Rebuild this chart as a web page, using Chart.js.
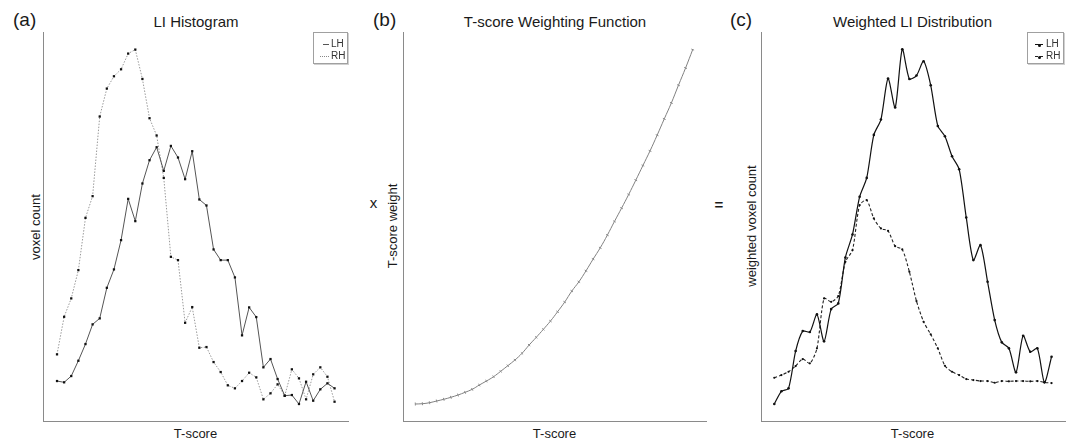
<!DOCTYPE html>
<html><head><meta charset="utf-8">
<script src="https://cdn.jsdelivr.net/npm/chart.js@4/dist/chart.umd.min.js"></script>
<style>
html,body{margin:0;padding:0;background:#fff;}
body{width:1077px;height:440px;position:relative;overflow:hidden;font-family:"Liberation Sans",Arial,sans-serif;color:#1a1a1a;}
.t{position:absolute;white-space:nowrap;line-height:1;}
.c{transform:translateX(-50%);}
.m{transform:translate(-50%,-50%);}
.r{transform:translate(-50%,-50%) rotate(-90deg);}
canvas{position:absolute;}
.lg{position:absolute;border:1px solid #a0a0a0;box-shadow:1px 1px 0 #d0d0d0;background:#fff;font-size:10px;color:#333;}
.row{position:absolute;height:10px;line-height:10px;}
.smp{position:absolute;top:5px;height:0;}
.dot{position:absolute;top:-1.5px;left:2.5px;width:3px;height:3px;border-radius:50%;background:#111;}
</style>
</head><body>
<div class="t" style="left:13px;top:10px;font-size:19px;">(a)</div>
<div class="t c" style="left:196px;top:14px;font-size:15px;">LI Histogram</div>
<div class="t r" style="left:34.5px;top:226.7px;font-size:13px;">voxel count</div>
<div class="t c" style="left:195.5px;top:427px;font-size:13px;">T-score</div>

<div class="t" style="left:373px;top:10px;font-size:19px;">(b)</div>
<div class="t c" style="left:555px;top:14px;font-size:15px;">T-score Weighting Function</div>
<div class="t m" style="left:373.5px;top:202px;font-size:15px;">x</div>
<div class="t r" style="left:391.5px;top:226px;font-size:13px;">T-score weight</div>
<div class="t c" style="left:554.5px;top:427px;font-size:13px;">T-score</div>
<div class="t m" style="left:719px;top:204px;font-size:15px;font-weight:bold;">=</div>

<div class="t" style="left:730px;top:10px;font-size:19px;">(c)</div>
<div class="t c" style="left:912.5px;top:14px;font-size:15px;">Weighted LI Distribution</div>
<div class="t r" style="left:750.5px;top:226px;font-size:13px;">weighted voxel count</div>
<div class="t c" style="left:912.5px;top:427px;font-size:13px;">T-score</div>

<canvas id="ca" width="325" height="409" style="left:33px;top:22px;"></canvas>
<canvas id="cb" width="323" height="409" style="left:393px;top:22px;"></canvas>
<canvas id="cc" width="324" height="409" style="left:751px;top:22px;"></canvas>

<div class="lg" style="left:313px;top:32px;width:33px;height:30px;">
  <div class="row" style="left:0;top:6px;width:33px;"><span class="smp" style="left:9px;width:6px;border-top:1px solid #555;"></span><span style="position:absolute;left:17px;">LH</span></div>
  <div class="row" style="left:0;top:18px;width:33px;"><span class="smp" style="left:6px;width:9px;border-top:1px dotted #888;"></span><span style="position:absolute;left:17px;">RH</span></div>
</div>
<div class="lg" style="left:1027px;top:32px;width:35px;height:30px;">
  <div class="row" style="left:0;top:6px;width:35px;"><span class="smp" style="left:7px;width:8px;border-top:1px solid #111;"><span class="dot"></span></span><span style="position:absolute;left:18px;">LH</span></div>
  <div class="row" style="left:0;top:18px;width:35px;"><span class="smp" style="left:7px;width:8px;border-top:1px dashed #222;"><span class="dot"></span></span><span style="position:absolute;left:18px;">RH</span></div>
</div>

<script>
const tScoreBins = [1,2,3,4,5,6,7,8,9,10,11,12,13,14,15,16,17,18,19,20,21,22,23,24,25,26,27,28,29,30,31,32,33,34,35,36,37,38,39,40];

const histLH = [40,38.7,45,60.3,77,96.7,102.7,133.3,151.7,181,222.3,200,237.7,261,274,250.3,275.3,263.7,242,270,221.7,215.7,171.7,161,161,143.7,85.7,113.7,104,53.7,62,42,25.3,26,17,39.3,20.3,31.7,37.7,32.7];
const histRH = [66.7,104.3,122.7,151,203.3,225,304.7,332.7,345,352,367.7,371.7,342.3,303,285.7,243.3,164.3,161,98.3,114,73.3,74,59,49,35.7,32.7,40,48.3,43.7,21.7,27.7,36.7,25.3,51.7,42.7,21.7,46.7,53.7,44.3,19.3];

const tScoreWeight = [17,17.3,18.3,20,21.7,23.7,26,28.7,31.7,36,40,44.3,49.7,55.3,61,67.7,76,83.7,91.7,100,109.3,119,130,139.3,150.3,162,173.3,186,199.7,213,226.7,241,255.7,270.3,286,302.3,318.3,336,353.3,371.7];

const weightedLH = [17,29.7,32.7,70,90,89,106.7,79.7,112,117.7,163.7,186.7,224.3,243.3,286.3,301.7,342.7,313.7,372,342.3,345.7,360,336,295.3,285,265,252,203.7,161,176,139.3,101,78.7,72.7,48.7,85.3,69.3,72.7,38.7,64.3];
const weightedRH = [43.3,46,49.3,55,62,57.7,72.7,122.7,119.3,125,159.3,171,216,221,202.7,192.7,190.3,175,171.7,149.3,120,99.3,86.7,72.7,55.3,49.3,46,42,41,40,40,38.3,40,39.7,40,40,39.7,40,38.7,38];

function pts(vals){ return vals.map((v,i)=>({x:tScoreBins[i], y:v})); }

function opts(xmin, xmax){
  const ax = (min,max)=>({type:'linear',min:min,max:max,
    ticks:{display:false},grid:{display:false,drawTicks:false},
    border:{display:true,color:'#8a8a8a',width:1}});
  return {
    responsive:false, animation:false, devicePixelRatio:1,
    layout:{padding:10},
    plugins:{legend:{display:false},tooltip:{enabled:false},title:{display:false}},
    scales:{x:ax(xmin,xmax), y:ax(0,389.3)}
  };
}

new Chart(document.getElementById('ca'),{
  type:'line',
  data:{datasets:[
    {label:'LH',data:pts(histLH),borderColor:'#555',borderWidth:1,tension:0,
     pointStyle:'rect',pointRadius:1.6,pointBackgroundColor:'#111',pointBorderWidth:0},
    {label:'RH',data:pts(histRH),borderColor:'#9a9a9a',borderWidth:1,borderDash:[1.5,1.5],tension:0,
     pointStyle:'rect',pointRadius:1.6,pointBackgroundColor:'#111',pointBorderWidth:0}
  ]},
  options:opts(-0.97,41.89)
});

new Chart(document.getElementById('cb'),{
  type:'line',
  data:{datasets:[
    {label:'weight',data:pts(tScoreWeight),borderColor:'#808080',borderWidth:1,tension:0.4,
     pointStyle:'line',pointRadius:1.5,pointBorderColor:'#8a8a8a',pointBorderWidth:1,
     rotation:(ctx)=>{
       const i=ctx.dataIndex, d=tScoreWeight, ch=ctx.chart;
       if(!ch.scales||!ch.scales.x) return 90;
       const a=Math.max(0,i-1), b=Math.min(d.length-1,i+1);
       const dx=ch.scales.x.getPixelForValue(tScoreBins[b])-ch.scales.x.getPixelForValue(tScoreBins[a]);
       const dy=ch.scales.y.getPixelForValue(d[b])-ch.scales.y.getPixelForValue(d[a]);
       return Math.atan2(dy,dx)*180/Math.PI+90;
     }}
  ]},
  options:opts(-0.73,41.87)
});

new Chart(document.getElementById('cc'),{
  type:'line',
  data:{datasets:[
    {label:'LH',data:pts(weightedLH),borderColor:'#111',borderWidth:1.2,tension:0.25,
     pointStyle:'circle',pointRadius:1.3,pointBackgroundColor:'#111',pointBorderWidth:0},
    {label:'RH',data:pts(weightedRH),borderColor:'#222',borderWidth:1.1,borderDash:[3,2],tension:0.25,
     pointStyle:'circle',pointRadius:1.1,pointBackgroundColor:'#111',pointBorderWidth:0}
  ]},
  options:opts(-0.87,41.89)
});
</script>
</body></html>
